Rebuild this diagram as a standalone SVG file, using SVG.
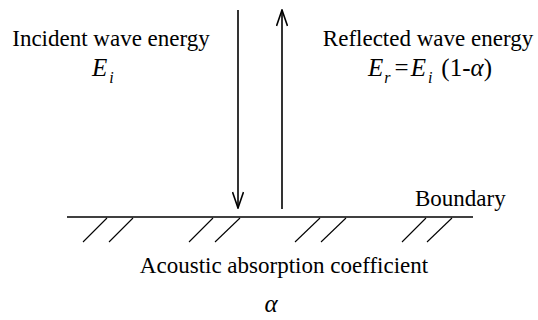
<svg xmlns="http://www.w3.org/2000/svg" width="538" height="320" viewBox="0 0 538 320">
<style>
text{font-family:"Liberation Serif",Tinos,"Times New Roman","DejaVu Serif",serif;fill:#000;font-size:23px}
.it{font-style:italic}
.f{font-size:25px}
.sub{font-size:16px;font-style:italic}
.ln{stroke:#000;stroke-width:1.6;fill:none}
.h{stroke:#000;stroke-width:1.1;fill:none}
</style>
<defs>
<marker id="ah" viewBox="0 0 18 12" refX="17" refY="6" markerWidth="18" markerHeight="12" markerUnits="userSpaceOnUse" orient="auto">
<path d="M1,0.5 L17,6 L1,11.5" fill="none" stroke="#000" stroke-width="1.6"/>
</marker>
</defs>
<rect width="538" height="320" fill="#fff"/>
<g id="incident">
<text x="111" y="46" text-anchor="middle">Incident wave energy</text>
<text x="92" y="76" class="it f">E<tspan class="sub" dx="2" dy="7">i</tspan></text>
</g>
<g id="reflected">
<text x="428" y="46" text-anchor="middle">Reflected wave energy</text>
<text x="368" y="76" class="it f">E<tspan class="sub" dx="1" dy="7">r</tspan><tspan dy="-7" font-style="normal" dx="4">=</tspan><tspan dx="2">E</tspan><tspan class="sub" dx="2" dy="7">i</tspan><tspan dy="-7" dx="9" font-style="normal">(1-</tspan><tspan>α</tspan><tspan font-style="normal">)</tspan></text>
</g>
<g id="boundary">
<line class="ln" x1="67" y1="217" x2="473" y2="217"/>
<line class="h" x1="107" y1="218" x2="83" y2="242"/>
<line class="h" x1="133" y1="218" x2="109" y2="242"/>
<line class="h" x1="213" y1="218" x2="189" y2="242"/>
<line class="h" x1="240" y1="218" x2="215" y2="242"/>
<line class="h" x1="320" y1="218" x2="295" y2="242"/>
<line class="h" x1="346" y1="218" x2="321" y2="242"/>
<line class="h" x1="426" y1="218" x2="402" y2="242"/>
<line class="h" x1="452" y1="218" x2="427" y2="242"/>
<text x="415" y="206">Boundary</text>
</g>
<g id="coefficient">
<text x="284" y="273" text-anchor="middle" font-size="21.5">Acoustic absorption coefficient</text>
<text x="271" y="312" text-anchor="middle" class="it f">α</text>
</g>
<g id="connectors">
<line class="ln" x1="238" y1="10" x2="238" y2="208" marker-end="url(#ah)"/>
<line class="ln" x1="282" y1="209" x2="282" y2="10" marker-end="url(#ah)"/>
</g>
</svg>
